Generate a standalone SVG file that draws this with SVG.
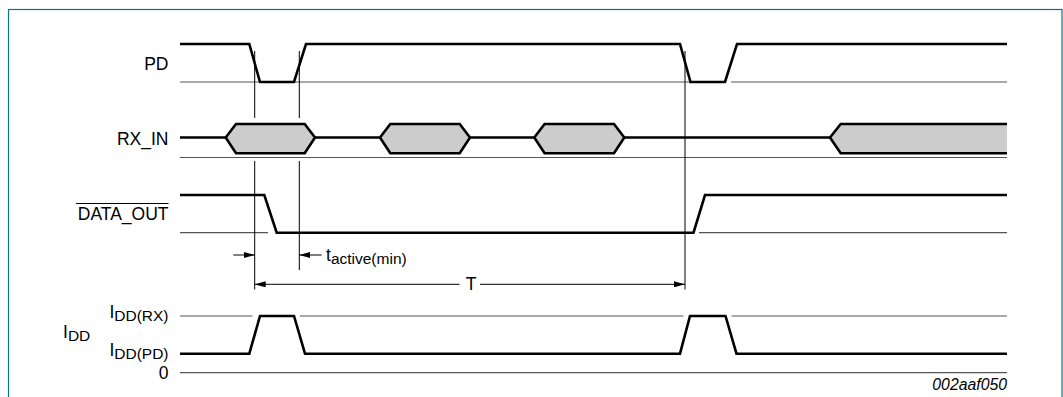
<svg xmlns="http://www.w3.org/2000/svg" width="1063" height="397" viewBox="0 0 1063 397">
<style>
.wave{fill:none;stroke:#000;stroke-width:2.6;stroke-linejoin:miter}
.base{fill:none;stroke:#555;stroke-width:1.2}
.vline{fill:none;stroke:#000;stroke-width:1}
.dim{fill:none;stroke:#000;stroke-width:1}
.hex{fill:#cccccc;stroke:#000;stroke-width:2.6}
.lbl{font-family:"Liberation Sans",Arial,sans-serif;font-size:17.5px;fill:#000}
.sub{font-size:15.5px}
.code{font-family:"Liberation Sans",Arial,sans-serif;font-size:15.8px;font-style:italic;fill:#000}
</style>
<defs>
<marker id="ah" markerUnits="userSpaceOnUse" markerWidth="11" markerHeight="6" refX="11" refY="3" orient="auto">
<path d="M0,0 L11,3 L0,6 Z" fill="#000"/>
</marker>
</defs>
<rect x="8.5" y="9.5" width="1053.5" height="400" fill="#fff" stroke="#0e7386" stroke-width="1.2"/>

<g id="PD">
<text class="lbl" x="168.5" y="70" text-anchor="end">PD</text>
<path class="base" d="M180,82 H725 M731,82 H1007"/>
<path class="wave" d="M180,44 H249.3 L260,82 H294 L306,44 H680 L690.5,82 H725 L737,44 H1007"/>
</g>

<g id="RX_IN">
<text class="lbl" x="168.5" y="145" text-anchor="end">RX_IN</text>
<path class="base" d="M180,157.5 H1007"/>
<path class="wave" d="M180,137.5 H225.7 M315,137.5 H380 M470,137.5 H534.3 M624.3,137.5 H830"/>
<path class="hex" d="M225.7,137.5 L236,124 H304.7 L315,137.5 L304.7,153.3 H236 Z"/>
<path class="hex" d="M380,137.5 L390.3,124 H459.7 L470,137.5 L459.7,153.3 H390.3 Z"/>
<path class="hex" d="M534.3,137.5 L544.6,124 H614 L624.3,137.5 L614,153.3 H544.6 Z"/>
<path d="M830,137.5 L840.7,124 H1007 V153.3 H840.7 Z" fill="#cccccc"/>
<path class="wave" d="M1007,124 H840.7 L830,137.5 L840.7,153.3 H1007"/>
</g>

<g id="DATA_OUT">
<text class="lbl" x="168.5" y="220" text-anchor="end">DATA_OUT</text>
<line x1="76" y1="203.5" x2="168.5" y2="203.5" stroke="#000" stroke-width="1.2"/>
<path class="base" d="M180,232.7 H268 M699,232.7 H1007"/>
<path class="wave" d="M180,195 H264.3 L276.7,232.7 H693.5 L705,195 H1007"/>
</g>

<g id="IDD">
<text class="lbl" x="63" y="338">I<tspan class="sub" dy="2.5">DD</tspan></text>
<text class="lbl" x="168.5" y="317.5" text-anchor="end">I<tspan class="sub" dy="3">DD(RX)</tspan></text>
<text class="lbl" x="168.5" y="355.5" text-anchor="end">I<tspan class="sub" dy="3">DD(PD)</tspan></text>
<text class="lbl" x="168.5" y="379" text-anchor="end">0</text>
<path class="base" d="M180,316 H252.5 M300,316 H683.5 M731.5,316 H1007 M180,372.7 H1007"/>
<path class="wave" d="M180,353.7 H249.3 L260,316 H294 L305,353.7 H680 L690,316 H725.5 L736.5,353.7 H1007"/>
</g>

<g id="connectors">
<path class="vline" d="M254.7,51 V118 M254.7,161 V289.5 M299.3,51 V118 M299.3,161 V270 M685,51 V289.5"/>
<line class="dim" x1="233.3" y1="255" x2="254.7" y2="255" marker-end="url(#ah)"/>
<line class="dim" x1="321.7" y1="255" x2="299.3" y2="255" marker-end="url(#ah)"/>
<line class="dim" x1="459.5" y1="284.3" x2="254.7" y2="284.3" marker-end="url(#ah)"/>
<line class="dim" x1="480" y1="284.3" x2="685" y2="284.3" marker-end="url(#ah)"/>
</g>

<g id="labels">
<text class="lbl" x="326" y="260.5">t<tspan class="sub" dy="3.5">active(min)</tspan></text>
<text class="lbl" x="471" y="289.5" text-anchor="middle">T</text>
<text class="code" x="1007" y="390" text-anchor="end">002aaf050</text>
</g>
</svg>
